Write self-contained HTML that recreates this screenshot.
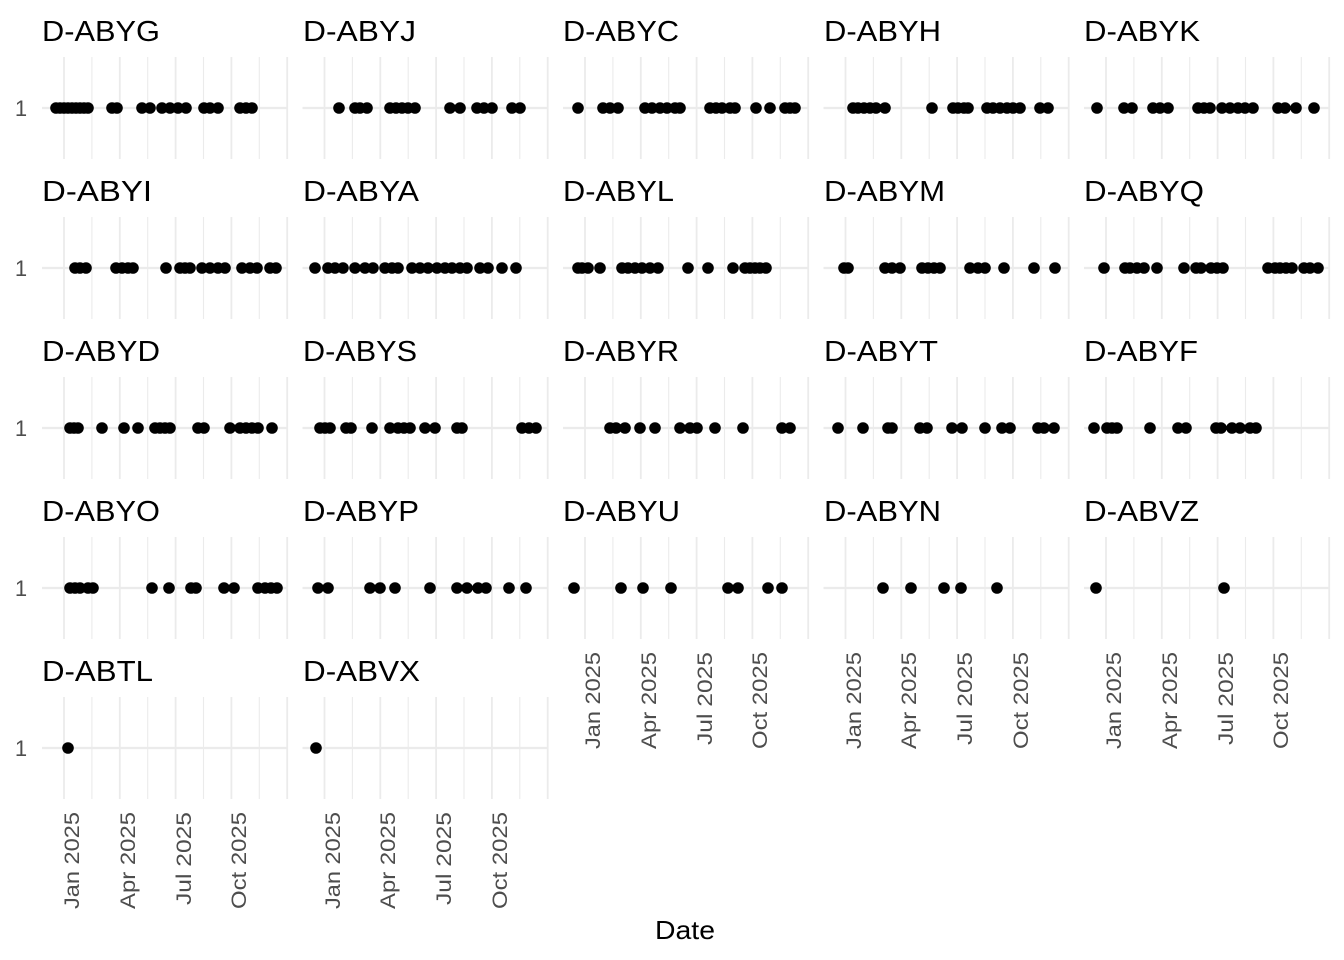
<!DOCTYPE html>
<html><head><meta charset="utf-8"><style>
body{margin:0;background:#fff}
svg{display:block}
text{font-family:"Liberation Sans",sans-serif}
</style></head><body>
<svg id="s" width="1344" height="960" viewBox="0 0 1344 960" xmlns="http://www.w3.org/2000/svg">
<g id="grid"></g><g id="pts"></g>
<g font-size="29" fill="#000" lengthAdjust="spacingAndGlyphs">
<text x="42" y="41" textLength="118" lengthAdjust="spacingAndGlyphs">D-ABYG</text>
<text x="303" y="41" textLength="113" lengthAdjust="spacingAndGlyphs">D-ABYJ</text>
<text x="563" y="41" textLength="116" lengthAdjust="spacingAndGlyphs">D-ABYC</text>
<text x="824" y="41" textLength="117" lengthAdjust="spacingAndGlyphs">D-ABYH</text>
<text x="1084" y="41" textLength="116" lengthAdjust="spacingAndGlyphs">D-ABYK</text>
<text x="42" y="201" textLength="110" lengthAdjust="spacingAndGlyphs">D-ABYI</text>
<text x="303" y="201" textLength="116" lengthAdjust="spacingAndGlyphs">D-ABYA</text>
<text x="563" y="201" textLength="111" lengthAdjust="spacingAndGlyphs">D-ABYL</text>
<text x="824" y="201" textLength="121" lengthAdjust="spacingAndGlyphs">D-ABYM</text>
<text x="1084" y="201" textLength="120" lengthAdjust="spacingAndGlyphs">D-ABYQ</text>
<text x="42" y="361" textLength="118" lengthAdjust="spacingAndGlyphs">D-ABYD</text>
<text x="303" y="361" textLength="114" lengthAdjust="spacingAndGlyphs">D-ABYS</text>
<text x="563" y="361" textLength="116" lengthAdjust="spacingAndGlyphs">D-ABYR</text>
<text x="824" y="361" textLength="114" lengthAdjust="spacingAndGlyphs">D-ABYT</text>
<text x="1084" y="361" textLength="114" lengthAdjust="spacingAndGlyphs">D-ABYF</text>
<text x="42" y="521" textLength="118" lengthAdjust="spacingAndGlyphs">D-ABYO</text>
<text x="303" y="521" textLength="116" lengthAdjust="spacingAndGlyphs">D-ABYP</text>
<text x="563" y="521" textLength="117" lengthAdjust="spacingAndGlyphs">D-ABYU</text>
<text x="824" y="521" textLength="117" lengthAdjust="spacingAndGlyphs">D-ABYN</text>
<text x="1084" y="521" textLength="115" lengthAdjust="spacingAndGlyphs">D-ABVZ</text>
<text x="42" y="681" textLength="111" lengthAdjust="spacingAndGlyphs">D-ABTL</text>
<text x="303" y="681" textLength="117" lengthAdjust="spacingAndGlyphs">D-ABVX</text>
</g>
<g font-size="22" fill="#4d4d4d" text-anchor="middle">
<text x="21" y="116">1</text><text x="21" y="276">1</text><text x="21" y="436">1</text><text x="21" y="596">1</text><text x="21" y="756">1</text>
</g>
<g font-size="21" fill="#4d4d4d" text-anchor="end">
<text transform="translate(79,812) rotate(-90)" textLength="97" lengthAdjust="spacingAndGlyphs">Jan 2025</text>
<text transform="translate(135,812) rotate(-90)" textLength="97" lengthAdjust="spacingAndGlyphs">Apr 2025</text>
<text transform="translate(191,812) rotate(-90)" textLength="93" lengthAdjust="spacingAndGlyphs">Jul 2025</text>
<text transform="translate(246,812) rotate(-90)" textLength="97" lengthAdjust="spacingAndGlyphs">Oct 2025</text>
<text transform="translate(340,812) rotate(-90)" textLength="97" lengthAdjust="spacingAndGlyphs">Jan 2025</text>
<text transform="translate(395,812) rotate(-90)" textLength="97" lengthAdjust="spacingAndGlyphs">Apr 2025</text>
<text transform="translate(451,812) rotate(-90)" textLength="93" lengthAdjust="spacingAndGlyphs">Jul 2025</text>
<text transform="translate(507,812) rotate(-90)" textLength="97" lengthAdjust="spacingAndGlyphs">Oct 2025</text>
<text transform="translate(600,652) rotate(-90)" textLength="97" lengthAdjust="spacingAndGlyphs">Jan 2025</text>
<text transform="translate(656,652) rotate(-90)" textLength="97" lengthAdjust="spacingAndGlyphs">Apr 2025</text>
<text transform="translate(712,652) rotate(-90)" textLength="93" lengthAdjust="spacingAndGlyphs">Jul 2025</text>
<text transform="translate(767,652) rotate(-90)" textLength="97" lengthAdjust="spacingAndGlyphs">Oct 2025</text>
<text transform="translate(861,652) rotate(-90)" textLength="97" lengthAdjust="spacingAndGlyphs">Jan 2025</text>
<text transform="translate(916,652) rotate(-90)" textLength="97" lengthAdjust="spacingAndGlyphs">Apr 2025</text>
<text transform="translate(972,652) rotate(-90)" textLength="93" lengthAdjust="spacingAndGlyphs">Jul 2025</text>
<text transform="translate(1028,652) rotate(-90)" textLength="97" lengthAdjust="spacingAndGlyphs">Oct 2025</text>
<text transform="translate(1121,652) rotate(-90)" textLength="97" lengthAdjust="spacingAndGlyphs">Jan 2025</text>
<text transform="translate(1177,652) rotate(-90)" textLength="97" lengthAdjust="spacingAndGlyphs">Apr 2025</text>
<text transform="translate(1233,652) rotate(-90)" textLength="93" lengthAdjust="spacingAndGlyphs">Jul 2025</text>
<text transform="translate(1288,652) rotate(-90)" textLength="97" lengthAdjust="spacingAndGlyphs">Oct 2025</text>
</g>
<text x="685" y="939" font-size="26" text-anchor="middle" fill="#000" textLength="60" lengthAdjust="spacingAndGlyphs">Date</text>
</svg>
<script>
var NS="http://www.w3.org/2000/svg";
var grid=document.getElementById("grid"),pts=document.getElementById("pts");
function el(p,t,a){var e=document.createElementNS(NS,t);for(var k in a)e.setAttribute(k,a[k]);p.appendChild(e);}
var panels=[];
for(var r=0;r<4;r++)for(var c=0;c<5;c++)panels.push([r,c]);
panels.push([4,0]);panels.push([4,1]);
panels.forEach(function(p){
 var L=42+260.5*p[1], cy=108+160*p[0];
 for(var i=0;i<9;i++){var x=L+22+27.9*i;
  el(grid,"line",{x1:x,x2:x,y1:cy-51,y2:cy+51,stroke:"#ebebeb","stroke-width":(i%2?1.1:1.8)});}
 el(grid,"line",{x1:L,x2:L+245,y1:cy,y2:cy,stroke:"#ebebeb","stroke-width":2.2});
});
var rows=[
[56,60,64,68,72,76,80,84,88,112,117,142,150,162,170,178,186,204,210,218,240,246,252,
339,355,360,367,390,396,402,408,415,450,460,477,484,492,512,520,
578,603,610,618,645,652,660,667,675,680,710,716,722,730,735,756,770,785,790,795,
853,858,864,870,876,885,932,953,958,964,968,987,993,1000,1007,1013,1020,1040,1048,
1097,1124,1132,1153,1160,1168,1198,1204,1210,1222,1230,1238,1245,1253,1278,1285,1296,1314],
[75,80,86,116,122,128,133,166,180,185,190,202,210,218,225,242,250,257,270,276,
315,328,335,343,355,365,373,385,392,398,412,420,428,437,445,452,460,467,480,488,502,516,
578,582,588,600,622,628,635,642,650,658,688,708,733,745,750,755,760,766,
844,848,885,892,900,922,928,934,940,970,978,985,1004,1034,1055,
1104,1125,1130,1137,1144,1157,1184,1196,1201,1211,1217,1223,1268,1275,1280,1286,1292,1304,1310,1318],
[70,74,78,102,124,138,155,160,165,170,198,204,230,240,246,252,258,272,
320,325,330,346,351,372,390,398,404,410,425,435,457,462,522,529,536,
610,616,625,640,655,680,690,697,715,743,782,790,
838,863,888,892,920,927,952,962,985,1002,1010,1038,1044,1054,
1094,1107,1112,1117,1150,1178,1186,1216,1221,1232,1240,1250,1256],
[70,75,80,88,93,152,169,191,196,224,234,258,265,271,277,
318,328,370,380,395,430,457,467,478,486,509,526,
574,621,643,671,728,738,768,782,
883,911,944,961,997,
1096,1224],
[68,316]];
rows.forEach(function(xs,r){xs.forEach(function(x){el(pts,"circle",{cx:x,cy:108+160*r,r:5.8,fill:"#000"});});});
</script>
</body></html>
